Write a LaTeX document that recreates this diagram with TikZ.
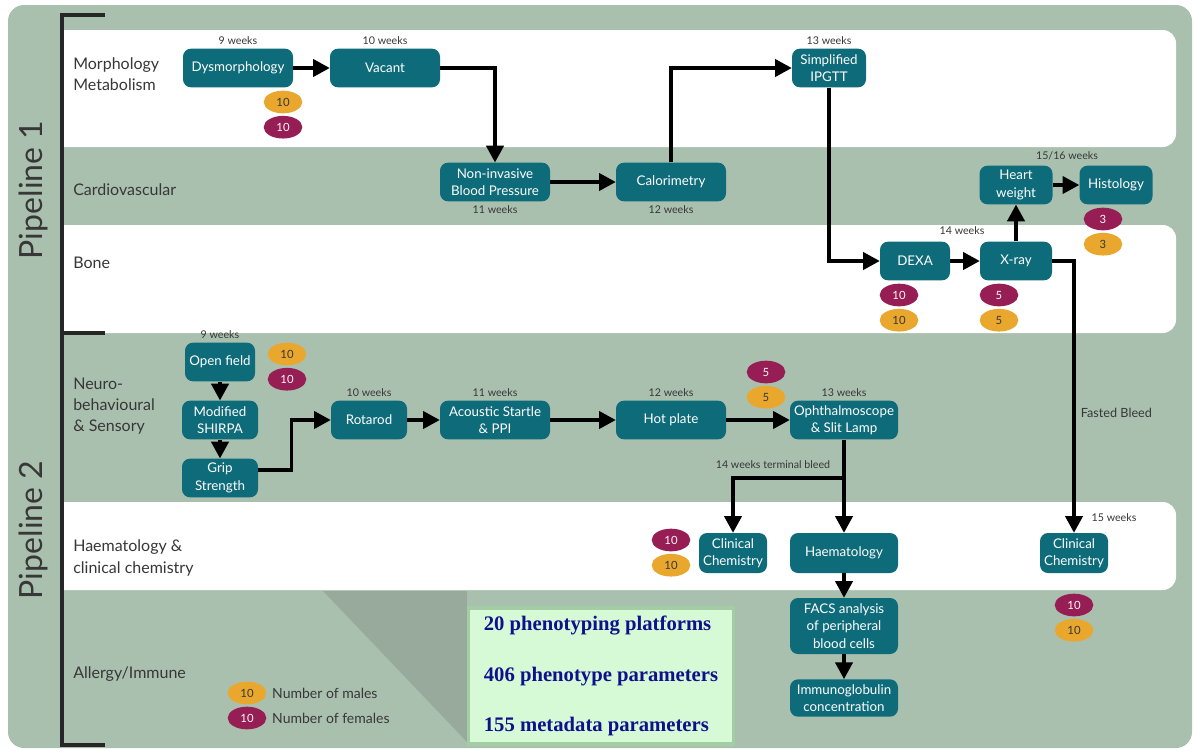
\documentclass[tikz,border=0pt]{standalone}
\usepackage{fontspec}
\setmainfont{Lato}
\newfontfamily\statfont{Liberation Serif}
\usetikzlibrary{arrows.meta}
\usetikzlibrary{shapes.geometric}
\usetikzlibrary{positioning}
\definecolor{sage}{RGB}{170,192,175}
\definecolor{tealbox}{RGB}{14,108,122}
\definecolor{maleorange}{RGB}{233,167,45}
\definecolor{femalepurple}{RGB}{150,30,85}
\definecolor{labelgray}{RGB}{55,55,55}
\definecolor{statgreen}{RGB}{214,250,214}
\definecolor{statframe}{RGB}{165,205,165}
\definecolor{statblue}{RGB}{16,16,140}
\newcommand*{\statstyle}{\statfont\bfseries\fontsize{15.5}{38}\selectfont}
\newcommand*{\cohort}[5]{%
  \node [#3] (#1-a) at (#2) {#5};
  \node [#4, below=1.5pt of #1-a] (#1-b) {#5};
}

\begin{document}
\begin{tikzpicture}[x=0.75pt, y=-0.75pt,
    platform/.style = {rectangle, rounded corners=6pt, fill=tealbox, text=white,
                       font=\fontsize{10}{13}\selectfont, align=center, inner sep=0pt,
                       minimum width=#1*0.75pt, minimum height=29pt},
    platform/.default = 110]
		\tikzset{
		  male/.style={ellipse, fill=maleorange, text=labelgray, inner sep=0pt,
		    minimum width=29pt, minimum height=17pt, font=\fontsize{8.5}{10}\selectfont},
		  female/.style={male, fill=femalepurple, text=white!90!pink},
		  weeks/.style={font=\fontsize{8}{9}\selectfont, text=labelgray, inner sep=1pt},
		  band/.style={font=\fontsize{12}{16}\selectfont, text=labelgray, align=left, anchor=west, inner sep=0pt},
		  flow/.style={line width=2.3pt, -{Triangle[length=12.5pt,width=13pt]}},
		  bracket/.style={line width=2.4pt, black!85}
		}
		\useasboundingbox (0,0) rectangle (1194,751);
		% background and bands
		\fill[sage, rounded corners=12] (8,5) rectangle (1192,748);
		\begin{scope}
		  \clip (63,0) rectangle (1194,751);
		  \fill[white, rounded corners=10] (40,30) rectangle (1176,147);
		  \fill[white, rounded corners=10] (40,225) rectangle (1176,333);
		  \fill[white, rounded corners=10] (40,502) rectangle (1176,590);
		\end{scope}
		\fill[black, opacity=0.11] (323,591) -- (467,591) -- (467,742) -- cycle;
		\draw[bracket] (105,15) -- (62,15) -- (62,745) -- (105,745);
		\draw[bracket] (62,333) -- (105,333);
		\node[rotate=90, font=\fontsize{24}{28}\selectfont, text=labelgray] (pipe1) at (33,190) {Pipeline 1};
		\node[rotate=90, font=\fontsize{24}{28}\selectfont, text=labelgray] (pipe2) at (33,530) {Pipeline 2};
		% band labels
		\node[band] (lmorph) at (73,74) {Morphology\\Metabolism};
		\node[band] (lcardio) at (73,190) {Cardiovascular};
		\node[band] (lbone) at (73,263) {Bone};
		\node[band] (lneuro) at (73,406) {Neuro-\\behavioural\\\& Sensory};
		\node[band] (lhaem) at (73,558) {Haematology \&\\clinical chemistry};
		\node[band] (lallergy) at (73,674) {Allergy/Immune};

		% pipeline 1
		\node[platform] (dysm) at (238,68) {Dysmorphology};
		\node[platform] (vacant) at (385,68) {Vacant};
		\node[platform] (nibp) at (495,182) {Non-invasive\\Blood Pressure};
		\node[platform] (calor) at (671,182) {Calorimetry};
		\node[platform=74] (ipgtt) at (829,68) {Simplified\\IPGTT};
		\node[platform=70] (dexa) at (915,261) {DEXA};
		\node[platform=72] (xray) at (1016,261) {X-ray};
		\node[platform=73] (heart) at (1016,185) {Heart\\weight};
		\node[platform=73] (histo) at (1116,185) {Histology};
		\node[platform=68, minimum height=30pt] (clinR) at (1074,553) {Clinical\\Chemistry};

		\node[weeks, above=2pt of dysm] (w-dysm) {9 weeks};
		\node[weeks, above=2pt of vacant] (w-vacant) {10 weeks};
		\node[weeks, below=2pt of nibp] (w-nibp) {11 weeks};
		\node[weeks, below=2pt of calor] (w-calor) {12 weeks};
		\node[weeks, above=2pt of ipgtt] (w-ipgtt) {13 weeks};
		\node[weeks] (w-xray) at (962,231) {14 weeks};
		\node[weeks] (w-heart) at (1067,156) {15/16 weeks};
		\node[weeks] (w-clinR) at (1114,518) {15 weeks};

		\cohort{c-dysm}{283,102}{male}{female}{10}
		\cohort{c-dexa}{899,295}{female}{male}{10}
		\cohort{c-xray}{999,295}{female}{male}{5}
		\cohort{c-histo}{1103,219}{female}{male}{3}
		\cohort{c-clinR}{1074,605}{female}{male}{10}

		\draw[flow] (dysm) -- (vacant);
		\draw[flow] (vacant.east) -| (nibp.north);
		\draw[flow] (nibp) -- (calor);
		\draw[flow] (calor.north) |- (ipgtt.west);
		\draw[flow] (ipgtt.south) |- (dexa.west);
		\draw[flow] (dexa) -- (xray);
		\draw[flow] (xray) -- (heart);
		\draw[flow] (heart) -- (histo);
		\draw[flow] (xray.east) -| node[pos=0.78, right=3pt, weeks, font=\fontsize{9.5}{11}\selectfont] (fasted) {Fasted Bleed} (clinR.north);

		% pipeline 2
		\node[platform=70] (open) at (220,362) {Open field};
		\node[platform=76] (shirpa) at (220,420) {Modified\\SHIRPA};
		\node[platform=76] (grip) at (220,478) {Grip\\Strength};
		\node[platform=76] (rotarod) at (369,420) {Rotarod};
		\node[platform] (acoustic) at (495,420) {Acoustic Startle\\\& PPI};
		\node[platform] (hotplate) at (671,420) {Hot plate};
		\node[platform=108] (ophthal) at (844,420) {Ophthalmoscope\\\& Slit Lamp};
		\node[platform=68, minimum height=30pt] (clinL) at (733,553) {Clinical\\Chemistry};
		\node[platform=108, minimum height=30pt] (haem) at (844,553) {Haematology};
		\node[platform=108, minimum height=42pt] (facs) at (844,626) {FACS analysis\\of peripheral\\blood cells};
		\node[platform=108, minimum height=28pt] (immuno) at (844,698) {Immunoglobulin\\concentration};

		\node[weeks, above=2pt of open] (w-open) {9 weeks};
		\node[weeks, above=2pt of rotarod] (w-rotarod) {10 weeks};
		\node[weeks, above=2pt of acoustic] (w-acoustic) {11 weeks};
		\node[weeks, above=2pt of hotplate] (w-hotplate) {12 weeks};
		\node[weeks, above=2pt of ophthal] (w-ophthal) {13 weeks};
		\node[weeks] (w-bleed) at (773,465) {14 weeks terminal bleed};

		\cohort{c-open}{287,354}{male}{female}{10}
		\cohort{c-ophthal}{766,372}{female}{male}{5}
		\cohort{c-clinL}{671,540}{female}{male}{10}

		\coordinate (split) at (844,478);
		\draw[flow] (open) -- (shirpa);
		\draw[flow] (shirpa) -- (grip);
		\draw[flow] ([yshift=6pt]grip.east) -- ++(33,0) |- (rotarod.west);
		\draw[flow] (rotarod) -- (acoustic);
		\draw[flow] (acoustic) -- (hotplate);
		\draw[flow] (hotplate) -- (ophthal);
		\draw[flow] (ophthal) -- (haem);
		\draw[flow] (split) -| (clinL.north);
		\draw[flow] (haem) -- (facs);
		\draw[flow] (facs) -- (immuno);

		% legend and summary
		\node[male] (key-m) at (247,693) {10};
		\node[female] (key-f) at (247,718) {10};
		\node[band, font=\fontsize{10.5}{12}\selectfont, right=4pt of key-m] (key-mtext) {Number of males};
		\node[band, font=\fontsize{10.5}{12}\selectfont, right=4pt of key-f] (key-ftext) {Number of females};
		\node[draw=statframe, line width=2.5pt, fill=statgreen, minimum width=199pt, minimum height=102pt,
		      align=left, text=statblue, inner sep=3pt,
		      font=\statstyle] (stats) at (601,676)
		      {20 phenotyping platforms\\406 phenotype parameters\\155 metadata parameters};
\end{tikzpicture}
\end{document}
